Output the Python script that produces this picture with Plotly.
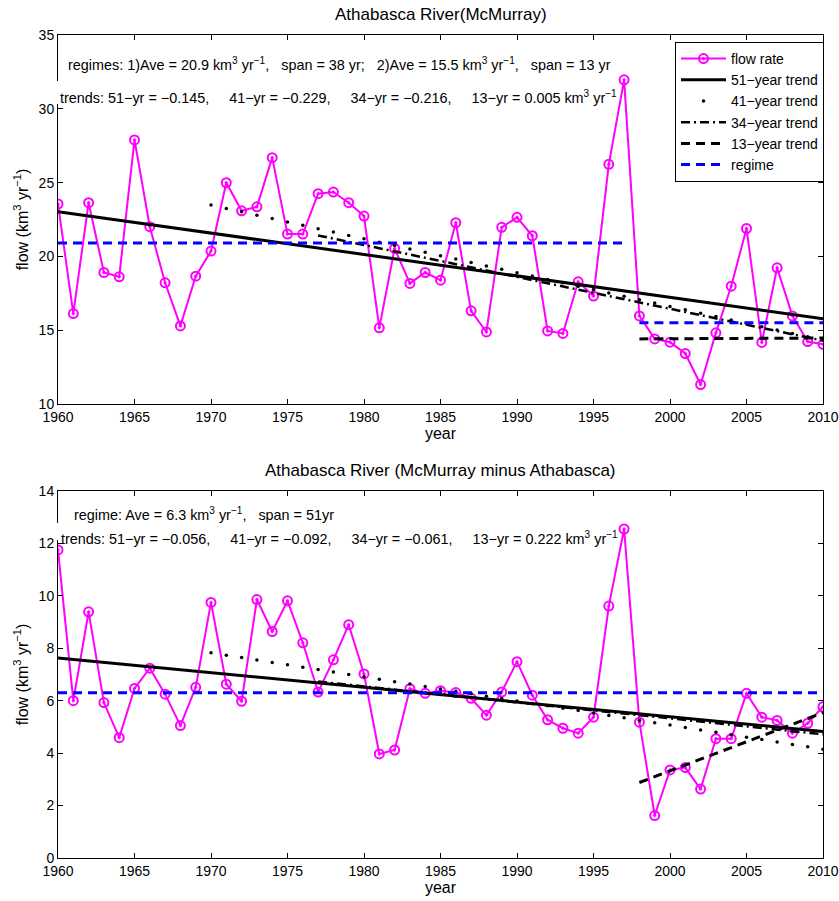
import numpy as np
import plotly.graph_objects as go

# ---------------- data ----------------
years = list(range(1960, 2011))

flow_mcmurray = [23.55, 16.13, 23.64, 18.91, 18.62, 27.89, 22.01, 18.21, 15.29, 18.66,
                 20.36, 24.99, 23.09, 23.36, 26.69, 21.51, 21.51, 24.25, 24.36, 23.64,
                 22.73, 15.16, 20.54, 18.17, 18.91, 18.39, 22.28, 16.31, 14.88, 21.97,
                 22.65, 21.40, 14.95, 14.78, 18.28, 17.31, 26.24, 31.96, 15.97, 14.41,
                 14.19, 13.42, 11.32, 14.82, 17.98, 21.89, 14.17, 19.23, 15.97, 14.23,
                 14.04]

flow_diff = [11.75, 6.00, 9.39, 5.93, 4.59, 6.47, 7.24, 6.25, 5.05, 6.51,
             9.75, 6.63, 5.98, 9.86, 8.64, 9.81, 8.21, 6.33, 7.56, 8.90,
             7.02, 3.97, 4.12, 6.46, 6.28, 6.38, 6.31, 6.09, 5.45, 6.33,
             7.49, 6.21, 5.27, 4.95, 4.76, 5.37, 9.61, 12.55, 5.18, 1.62,
             3.36, 3.45, 2.63, 4.55, 4.55, 6.28, 5.37, 5.25, 4.76, 5.14,
             5.77]

trend_names = ["51\u2212year trend", "41\u2212year trend", "34\u2212year trend", "13\u2212year trend"]
trend_start_years = [1960, 1970, 1977, 1998]
trend_end_year = 2010
top_trend_slopes = [-0.145, -0.229, -0.216, 0.005]
top_trend_start_values = [23.03, 23.48, 21.42, 14.41]
bot_trend_slopes = [-0.056, -0.092, -0.061, 0.222]
bot_trend_start_values = [7.63, 7.83, 6.73, 2.88]

top_regime_starts = [1960, 1998]
top_regime_ends = [1997, 2010]
top_regime_values = [20.9, 15.5]
bot_regime_starts = [1960]
bot_regime_ends = [2010]
bot_regime_values = [6.3]

# ---------------- layout helpers ----------------
W, H = 839, 901
L, R, T, B = 58, 823, 35, 858


def px_x(px):
    return (px - L) / (R - L)


def px_y(py):
    return (B - py) / (B - T)


MAG = "#FF00FF"
BLUE = "#0000FF"
FONT = "Liberation Sans, Arial, Helvetica, sans-serif"

fig = go.Figure()


def add_panel(xa, ya, flow, slopes, starts, rstarts, rends, rvals, showlegend):
    fig.add_trace(go.Scatter(
        x=years, y=flow, mode="lines+markers", name="flow rate",
        line=dict(color=MAG, width=2),
        marker=dict(symbol="circle-open-dot", size=9, color=MAG, line=dict(width=2, color=MAG)),
        xaxis=xa, yaxis=ya, showlegend=showlegend, legendrank=1))
    styles = [
        dict(mode="lines", line=dict(color="black", width=3)),
        None,
        dict(mode="lines", line=dict(color="black", width=2.5, dash="9px,4px,2px,4px")),
        dict(mode="lines", line=dict(color="black", width=3, dash="9px,6px")),
    ]
    for i in range(4):
        y0 = trend_start_years[i]
        if i == 1:
            xs = list(range(y0, trend_end_year + 1))
        else:
            xs = [y0, trend_end_year]
        ys = [starts[i] + slopes[i] * (x - y0) for x in xs]
        if i == 1:
            fig.add_trace(go.Scatter(
                x=xs, y=ys, mode="markers", name=trend_names[i],
                marker=dict(color="black", size=3.5, symbol="circle"),
                xaxis=xa, yaxis=ya, showlegend=showlegend, legendrank=2 + i))
        else:
            fig.add_trace(go.Scatter(
                x=xs, y=ys, name=trend_names[i], xaxis=xa, yaxis=ya,
                showlegend=showlegend, legendrank=2 + i, **styles[i]))
    for j in range(len(rvals)):
        fig.add_trace(go.Scatter(
            x=[rstarts[j], rends[j]], y=[rvals[j], rvals[j]], mode="lines", name="regime",
            line=dict(color=BLUE, width=3, dash="9px,6px"),
            xaxis=xa, yaxis=ya, showlegend=(showlegend and j == 0), legendrank=10))


add_panel("x", "y", flow_mcmurray, top_trend_slopes, top_trend_start_values,
          top_regime_starts, top_regime_ends, top_regime_values, True)
add_panel("x2", "y2", flow_diff, bot_trend_slopes, bot_trend_start_values,
          bot_regime_starts, bot_regime_ends, bot_regime_values, False)

axis_common = dict(
    showline=True, linecolor="black", linewidth=1, mirror="ticks",
    ticks="inside", ticklen=5, tickcolor="black", showgrid=False, zeroline=False,
    tickfont=dict(family=FONT, size=14, color="black"), automargin=False,
)

top_dom = [px_y(404), 1.0]
bot_dom = [0.0, px_y(491)]
ytitle = "flow (km<sup>3</sup> yr<sup>\u22121</sup>)"

fig.update_layout(
    width=W, height=H,
    margin=dict(l=L, r=W - R, t=T, b=H - B, autoexpand=False),
    paper_bgcolor="white", plot_bgcolor="white",
    font=dict(family=FONT, size=13, color="black"),
    xaxis=dict(domain=[0, 1], anchor="y", range=[1960, 2010], dtick=5, tick0=1960,
               title=dict(text="year", font=dict(size=16), standoff=2), **axis_common),
    yaxis=dict(domain=top_dom, anchor="x", range=[10, 35], dtick=5,
               title=dict(text=ytitle, font=dict(size=16), standoff=6), **axis_common),
    xaxis2=dict(domain=[0, 1], anchor="y2", range=[1960, 2010], dtick=5, tick0=1960,
                title=dict(text="year", font=dict(size=16), standoff=2), **axis_common),
    yaxis2=dict(domain=bot_dom, anchor="x2", range=[0, 14], dtick=2,
                title=dict(text=ytitle, font=dict(size=16), standoff=6), **axis_common),
    legend=dict(x=px_x(824), y=px_y(42), xanchor="right", yanchor="top",
                bgcolor="white", bordercolor="black", borderwidth=1,
                font=dict(family=FONT, size=14), itemwidth=45, tracegroupgap=0,
                traceorder="normal"),
    showlegend=True,
)

# small white patches where the text rows interrupt the left axis line
fig.update_layout(shapes=[
    dict(type="rect", xref="paper", yref="paper", x0=px_x(56.5), x1=px_x(60),
         y0=px_y(104), y1=px_y(81), fillcolor="white", line=dict(width=0), layer="above"),
    dict(type="rect", xref="paper", yref="paper", x0=px_x(56.5), x1=px_x(60),
         y0=px_y(540), y1=px_y(523), fillcolor="white", line=dict(width=0), layer="above"),
])

AF = 14.4
ann = []
ann.append(dict(text="Athabasca River(McMurray)", x=px_x(440.5), y=px_y(14),
                xref="paper", yref="paper", showarrow=False, font=dict(size=17),
                xanchor="center", yanchor="middle"))
ann.append(dict(text="Athabasca River (McMurray minus Athabasca)", x=px_x(440.5), y=px_y(470),
                xref="paper", yref="paper", showarrow=False, font=dict(size=17),
                xanchor="center", yanchor="middle"))
ann.append(dict(text="regimes: 1)Ave = 20.9 km<sup>3</sup> yr<sup>\u22121</sup>,   span = 38 yr;   "
                     "2)Ave = 15.5 km<sup>3</sup> yr<sup>\u22121</sup>,   span = 13 yr",
                x=px_x(66), y=px_y(64), xref="paper", yref="paper", showarrow=False,
                font=dict(size=AF), xanchor="left", yanchor="middle"))
ann.append(dict(text="trends: 51\u2212yr = \u22120.145,     41\u2212yr = \u22120.229,     "
                     "34\u2212yr = \u22120.216,     13\u2212yr = 0.005 km<sup>3</sup> yr<sup>\u22121</sup>",
                x=px_x(58), y=px_y(97), xref="paper", yref="paper", showarrow=False,
                font=dict(size=AF), xanchor="left", yanchor="middle"))
ann.append(dict(text="regime: Ave = 6.3 km<sup>3</sup> yr<sup>\u22121</sup>,   span = 51yr",
                x=px_x(72), y=px_y(514), xref="paper", yref="paper", showarrow=False,
                font=dict(size=AF), xanchor="left", yanchor="middle"))
ann.append(dict(text="trends: 51\u2212yr = \u22120.056,     41\u2212yr = \u22120.092,     "
                     "34\u2212yr = \u22120.061,     13\u2212yr = 0.222 km<sup>3</sup> yr<sup>\u22121</sup>",
                x=px_x(59), y=px_y(538), xref="paper", yref="paper", showarrow=False,
                font=dict(size=AF), xanchor="left", yanchor="middle"))
fig.update_layout(annotations=ann)

fig.write_html("out.html")
